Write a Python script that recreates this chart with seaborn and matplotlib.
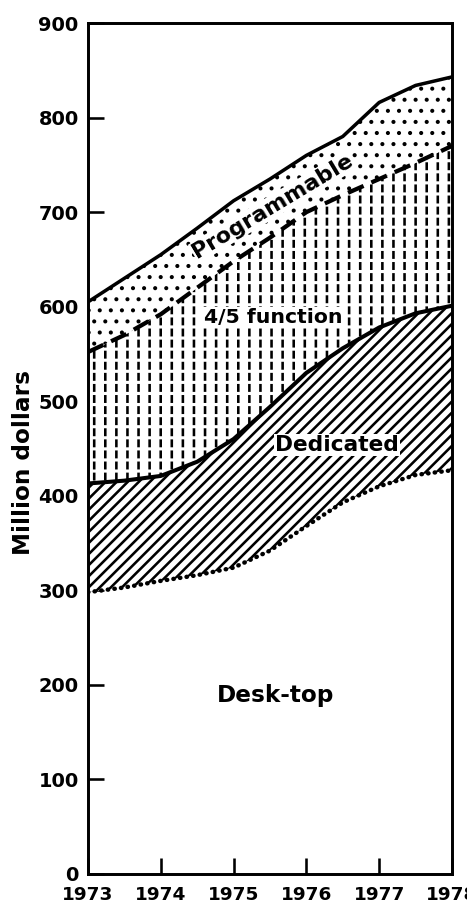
import seaborn as sns
import pandas as pd
import matplotlib.pyplot as plt

# values (cumulative boundaries, million dollars)
years = [1973, 1973.5, 1974, 1974.5, 1975, 1975.5, 1976, 1976.5, 1977, 1977.5, 1978]
desk_top = [298, 303, 310, 316, 324, 342, 368, 393, 410, 422, 427]
dedicated = [413, 416, 421, 436, 460, 494, 530, 556, 578, 593, 601]
four_five = [552, 570, 592, 620, 648, 673, 700, 718, 735, 752, 770]
programmable = [605, 630, 655, 683, 712, 735, 760, 780, 816, 834, 843]

year_ticks = [1973, 1974, 1975, 1976, 1977, 1978]
value_ticks = [0, 100, 200, 300, 400, 500, 600, 700, 800, 900]

df = pd.DataFrame({"year": years, "desk_top": desk_top, "dedicated": dedicated,
                   "four_five": four_five, "programmable": programmable})

sns.set_style("ticks")
plt.rcParams["font.family"] = ["DejaVu Sans"]
plt.rcParams["font.weight"] = "bold"
plt.rcParams["hatch.linewidth"] = 1.4

DPI = 133
fig = plt.figure(figsize=(467.01 / DPI, 907.01 / DPI), dpi=DPI)
ax = fig.add_axes([0.1884, 0.0364, 0.7794, 0.9382])

# hatched bands
ax.fill_between(df["year"], df["desk_top"], df["dedicated"], facecolor="white",
                edgecolor="black", hatch="////", linewidth=0)
ax.fill_between(df["year"], df["dedicated"], df["four_five"], facecolor="white",
                edgecolor="black", hatch="||", linewidth=0)
# white horizontal cuts to turn the vertical lines into dashes
with plt.rc_context({"hatch.linewidth": 1.7}):
    ax.fill_between(df["year"], df["dedicated"], df["four_five"], facecolor="none",
                    edgecolor="white", hatch="--", linewidth=0)
with plt.rc_context({"hatch.linewidth": 1.0}):
    ax.fill_between(df["year"], df["four_five"], df["programmable"], facecolor="white",
                    edgecolor="black", hatch="..", linewidth=0)

# boundary lines
sns.lineplot(data=df, x="year", y="programmable", ax=ax, color="black", linewidth=1.9)
sns.lineplot(data=df, x="year", y="four_five", ax=ax, color="black", linewidth=2.3,
             linestyle=(0, (4, 2)))
sns.lineplot(data=df, x="year", y="dedicated", ax=ax, color="black", linewidth=2.2)
sns.lineplot(data=df, x="year", y="desk_top", ax=ax, color="black", linewidth=2.4,
             linestyle=(0, (0.1, 1.4)), dash_capstyle="round")

box = dict(facecolor="white", edgecolor="none", pad=0.5)
ax.text(1975.54, 706, "Programmable", rotation=31, ha="center", va="center",
        fontsize=12, color="black", bbox=box)
ax.text(1975.54, 589, "4/5 function", ha="center", va="center", fontsize=11,
        color="black", bbox=box)
ax.text(1976.42, 454, "Dedicated", ha="center", va="center", fontsize=11.8,
        color="black", bbox=box)
ax.text(1975.57, 189, "Desk-top", ha="center", va="center", fontsize=12.5,
        color="black")

ax.set_xlim(1973, 1978)
ax.set_ylim(0, 900)
ax.set_xticks(year_ticks)
ax.set_yticks(value_ticks)
ax.set_xlabel("")
ax.set_ylabel("Million dollars", fontsize=12.5, fontweight="bold", color="black")
ax.yaxis.set_label_coords(-0.145, 0.484)
ax.tick_params(direction="in", length=8.5, width=1.4, color="black", labelcolor="black")
ax.tick_params(axis="y", pad=5, labelsize=10.5)
ax.tick_params(axis="x", pad=6.5, labelsize=10)
for s in ax.spines.values():
    s.set_visible(True)
    s.set_linewidth(1.6)
    s.set_color("black")

fig.savefig("out.png", dpi=DPI)
